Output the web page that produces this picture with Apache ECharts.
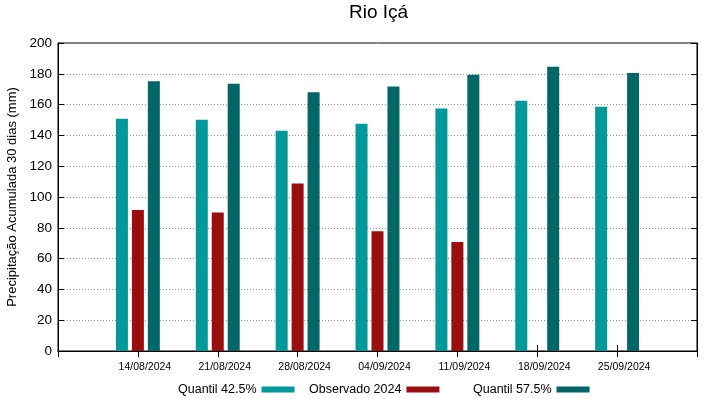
<!DOCTYPE html>
<html style="height: 100%">
<head>
    <meta charset="utf-8">
    <script src="https://cdn.jsdelivr.net/npm/echarts@6/dist/echarts.min.js"></script>
    <title>Rio Içá</title>
</head>
<body style="height: 100%; margin: 0">
<div id="container" style="width: 719px; height: 399px"></div>

<script type="text/javascript">
    // dados
    var datas = ['14/08/2024', '21/08/2024', '28/08/2024', '04/09/2024', '11/09/2024', '18/09/2024', '25/09/2024'];
    var quantil425 = [150.8, 150.1, 143.0, 147.5, 157.5, 162.5, 158.6];
    var observado = [91.5, 90.0, 108.7, 77.7, 70.7, null, null];
    var quantil575 = [175.1, 173.5, 168.1, 171.8, 179.4, 184.6, 180.5];
    var yTicks = [0, 20, 40, 60, 80, 100, 120, 140, 160, 180, 200];

    var fonte = 'Liberation Sans, Arial, sans-serif';

    // eixo x com uma posição vazia em cada ponta (como no gnuplot)
    function pad(arr) {
        return [null].concat(arr, [null]);
    }
    var cats = [''].concat(datas, ['']);

    var dom = document.getElementById('container');
    var myChart = echarts.init(dom, null, {renderer: 'canvas'});

    var legendaTexto = {fontSize: 12.5, color: '#000', fontFamily: fonte};

    var option = {
        backgroundColor: '#ffffff',
        animation: false,
        textStyle: {fontFamily: fonte},
        title: {
            text: 'Rio Içá',
            left: 349,
            top: 3,
            padding: 0,
            textStyle: {fontSize: 19, fontWeight: 'normal', color: '#000', fontFamily: fonte}
        },
        legend: [
            {
                data: ['Quantil 42.5%'], left: 178, top: 383, align: 'right', padding: 0,
                itemWidth: 33, itemHeight: 6, icon: 'rect', textStyle: legendaTexto
            },
            {
                data: ['Observado 2024'], left: 309, top: 383, align: 'right', padding: 0,
                itemWidth: 33, itemHeight: 6, icon: 'rect', textStyle: legendaTexto
            },
            {
                data: ['Quantil 57.5%'], left: 473, top: 383, align: 'right', padding: 0,
                itemWidth: 33, itemHeight: 6, icon: 'rect', textStyle: legendaTexto
            }
        ],
        grid: {
            left: 58,
            right: 22,
            top: 43,
            bottom: 48,
            outerBoundsMode: 'none',
            containLabel: false,
            show: true,
            borderColor: '#000',
            borderWidth: 1
        },
        xAxis: [
            {
                type: 'category',
                data: cats,
                boundaryGap: false,
                axisLine: {lineStyle: {color: '#000'}},
                axisTick: {inside: true, length: 6, lineStyle: {color: '#000'}},
                axisLabel: {interval: 0, fontSize: 10.5, color: '#000', margin: 11,
                    padding: [0, 0, 0, 14], fontFamily: fonte},
                splitLine: {show: false}
            },
            {
                type: 'category',
                position: 'top',
                data: cats,
                boundaryGap: false,
                axisLine: {lineStyle: {color: '#000'}},
                axisTick: {inside: true, length: 6, lineStyle: {color: '#000'}},
                axisLabel: {show: false},
                splitLine: {show: false}
            }
        ],
        yAxis: [
            {
                type: 'value',
                min: yTicks[0],
                max: yTicks[yTicks.length - 1],
                interval: 20,
                name: 'Precipitação Acumulada 30 dias (mm)',
                nameLocation: 'middle',
                nameRotate: 90,
                nameGap: 36,
                nameTextStyle: {fontSize: 13, color: '#000', fontFamily: fonte},
                axisLine: {show: true, lineStyle: {color: '#000'}},
                axisTick: {show: true, inside: true, length: 6, lineStyle: {color: '#000'}},
                axisLabel: {fontSize: 13.5, color: '#000', margin: 6, fontFamily: fonte},
                splitLine: {show: true, lineStyle: {color: '#999', type: [1, 2], width: 1}}
            },
            {
                type: 'value',
                position: 'right',
                min: yTicks[0],
                max: yTicks[yTicks.length - 1],
                interval: 20,
                axisLine: {show: true, lineStyle: {color: '#000'}},
                axisTick: {show: true, inside: true, length: 6, lineStyle: {color: '#000'}},
                axisLabel: {show: false},
                splitLine: {show: false}
            }
        ],
        series: [
            {
                name: 'Quantil 42.5%',
                type: 'bar',
                barWidth: 12,
                barGap: '33%',
                itemStyle: {color: '#009999'},
                data: pad(quantil425)
            },
            {
                name: 'Observado 2024',
                type: 'bar',
                barWidth: 12,
                barGap: '33%',
                itemStyle: {color: '#990f0f'},
                data: pad(observado)
            },
            {
                name: 'Quantil 57.5%',
                type: 'bar',
                barWidth: 12,
                barGap: '33%',
                itemStyle: {color: '#006666'},
                data: pad(quantil575)
            }
        ]
    };

    myChart.setOption(option);
    window.addEventListener('resize', myChart.resize);
</script>
</body>
</html>
